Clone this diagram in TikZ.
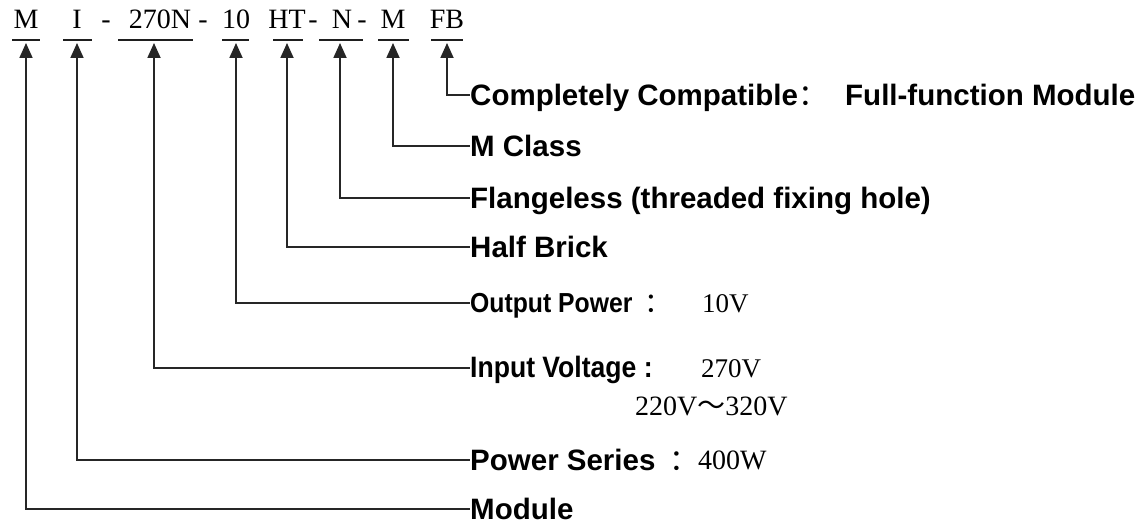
\documentclass[tikz,border=0pt]{standalone}
\usepackage{fontspec}
\setmainfont{Liberation Serif}
\newfontfamily\lab{Liberation Sans}
\newfontfamily\narrowb{Liberation Sans}[FakeStretch=0.9]
\newfontfamily\cjk{Noto Sans CJK SC}
\newcommand\fwcolon{{\cjk\mdseries ：}}
\usetikzlibrary{arrows.meta}
\begin{document}
\begin{tikzpicture}[x=1pt,y=1pt,
  code/.style={anchor=base,inner sep=0pt,font=\fontsize{28}{30}\selectfont},
  uline/.style={line width=1.8pt,draw=black!88},
  conn/.style={line width=1.8pt,draw=black!85,{Triangle[length=15pt,width=13pt]}-},
  descr/.style={anchor=west,inner sep=0pt,text height=20.5pt,text depth=0pt,
    font=\lab\bfseries\fontsize{29.5}{31}\selectfont},
  small/.style={anchor=west,inner sep=0pt,text height=19pt,text depth=0pt,
    font=\narrowb\bfseries\fontsize{27.5}{29}\selectfont},
  val/.style={anchor=west,inner sep=0pt,text height=19pt,text depth=0pt,
    font=\fontsize{27}{29}\selectfont}]
\useasboundingbox (0,0) rectangle (1146,530);
% top code
\node[code] (cM) at (26,501) {M};
\node[code] (cI) at (77,501) {I};
\node[code] (h1) at (106,501) {-};
\node[code] (c270) at (160,501) {270N};
\node[code] (h2) at (203,501) {-};
\node[code] (c10) at (236,501) {10};
\node[code] (cHT) at (287,501) {HT};
\node[code] (h3) at (313,501) {-};
\node[code] (cN) at (342,501) {N};
\node[code] (h4) at (362,501) {-};
\node[code] (cM2) at (393,501) {M};
\node[code] (cFB) at (447,501) {FB};
% underlines
\draw[uline] (12,490) -- (40,490);
\draw[uline] (63,490) -- (92,490);
\draw[uline] (118,490) -- (193,490);
\draw[uline] (222,490) -- (249,490);
\draw[uline] (273,490) -- (303,490);
\draw[uline] (319,490) -- (363,490);
\draw[uline] (378,490) -- (409,490);
\draw[uline] (431,490) -- (463,490);
% arrow tips
\coordinate (tM) at (26,487);
\coordinate (tI) at (77,487);
\coordinate (t270) at (154,487);
\coordinate (t10) at (236,487);
\coordinate (tHT) at (287,487);
\coordinate (tN) at (340,487);
\coordinate (tM2) at (393,487);
\coordinate (tFB) at (447,487);
% descriptions
\node[descr] (dFB) at (470,435) {Completely Compatible\fwcolon};
\node[descr] (vFB) at (845,435) {Full-function Module};
\node[descr] (dM2) at (470,384) {M Class};
\node[descr] (dN) at (470,332) {Flangeless (threaded fixing hole)};
\node[descr] (dHT) at (470,283) {Half Brick};
\node[small] (d10) at (470,227) {Output Power\hspace{12pt}\fwcolon};
\node[val] (v10) at (702,227) {10V};
\node[small,font=\narrowb\bfseries\fontsize{29.5}{31}\selectfont] (d270) at (470,162) {Input Voltage :};
\node[val] (v270) at (701,162) {270V};
\node[val,font=\fontsize{28}{30}\selectfont] (v270b) at (635,123.5) {220V{\cjk ～}320V};
\node[descr] (dI) at (470,70) {Power Series\hspace{14pt}\fwcolon};
\node[val,font=\fontsize{28}{30}\selectfont] (vI) at (698,70) {400W};
\node[descr] (dM) at (470,21) {Module};
% connectors
\draw[conn] (tFB) |- (dFB.west);
\draw[conn] (tM2) |- (dM2.west);
\draw[conn] (tN) |- (dN.west);
\draw[conn] (tHT) |- (dHT.west);
\draw[conn] (t10) |- (d10.west);
\draw[conn] (t270) |- (d270.west);
\draw[conn] (tI) |- (dI.west);
\draw[conn] (tM) |- (dM.west);
\end{tikzpicture}
\end{document}
